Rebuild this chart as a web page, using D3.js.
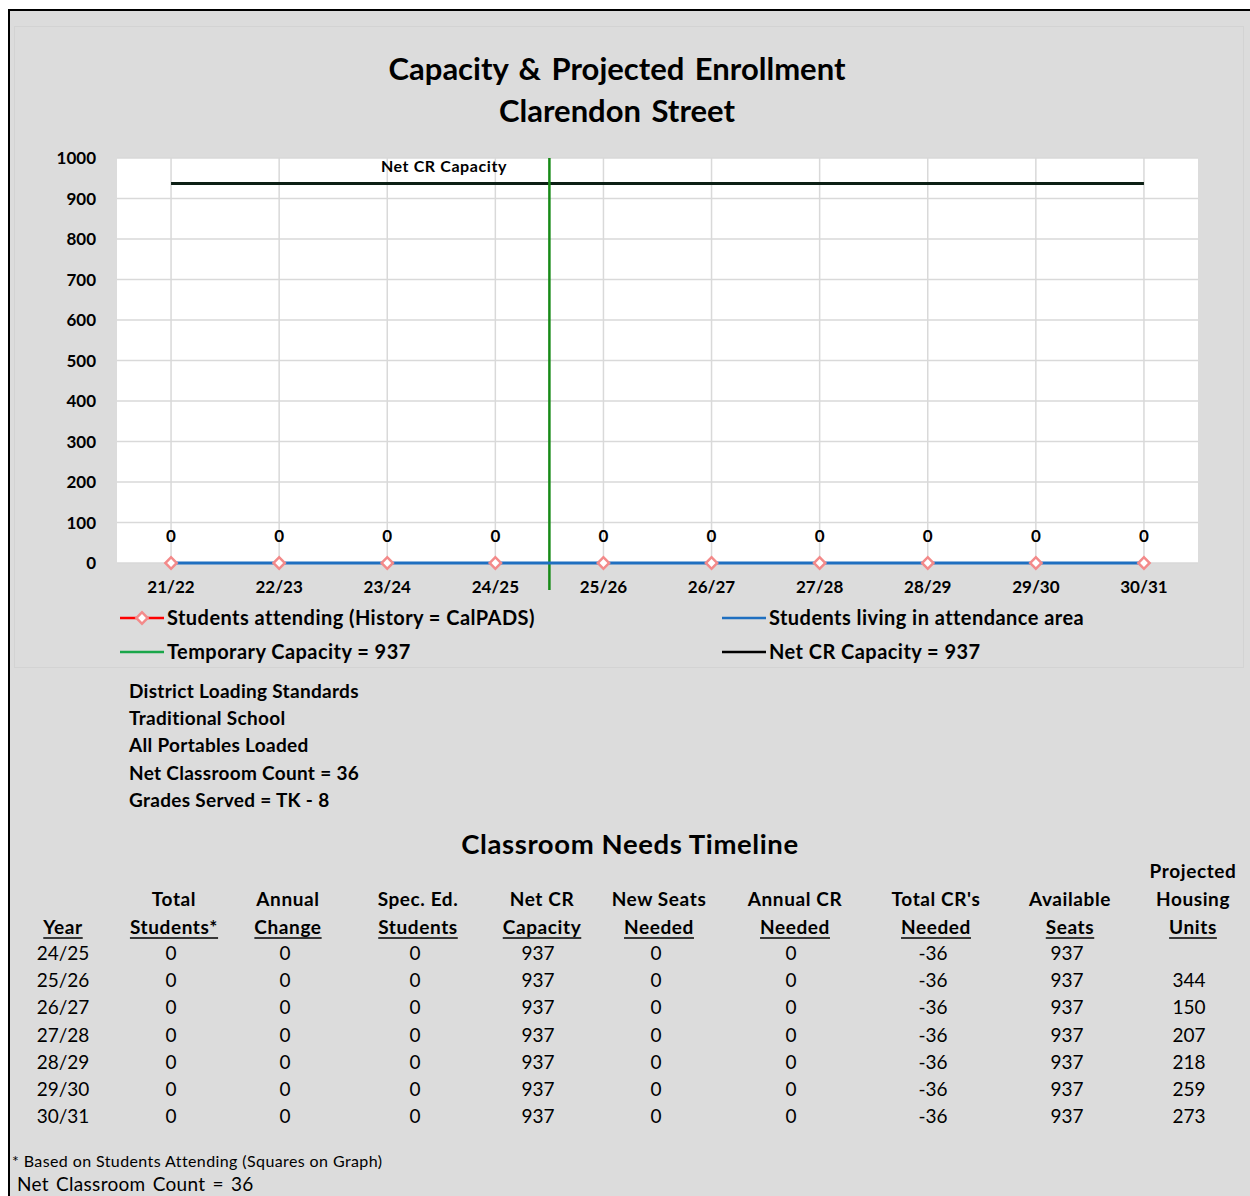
<!DOCTYPE html>
<html><head><meta charset="utf-8">
<script src="https://cdn.jsdelivr.net/npm/d3@7"></script>
<style>
html,body{margin:0;padding:0;background:#fff;}
svg{display:block;font-family:Lato,"Open Sans",sans-serif;}
</style></head>
<body><svg id="c" width="1250" height="1196"></svg>
<script>
// ---------- data ----------
const categories = ['21/22','22/23','23/24','24/25','25/26','26/27','27/28','28/29','29/30','30/31'];
const studentsAttending = [0,0,0,0,0,0,0,0,0,0];
const studentsLiving = [0,0,0,0,0,0,0,0,0,0];
const netCRCapacity = 937;
const temporaryCapacity = 937;
const dividerAfter = '24/25';
const yTicks = [0,100,200,300,400,500,600,700,800,900,1000];

const infoLines = ['District Loading Standards','Traditional School','All Portables Loaded','Net Classroom Count  = 36','Grades Served = TK - 8'];

const tableYears = ['24/25','25/26','26/27','27/28','28/29','29/30','30/31'];
const totalStudents = [0,0,0,0,0,0,0];
const annualChange = [0,0,0,0,0,0,0];
const specEdStudents = [0,0,0,0,0,0,0];
const netCRCap = [937,937,937,937,937,937,937];
const newSeatsNeeded = [0,0,0,0,0,0,0];
const annualCRNeeded = [0,0,0,0,0,0,0];
const totalCRNeeded = [-36,-36,-36,-36,-36,-36,-36];
const availableSeats = [937,937,937,937,937,937,937];
const housingUnits = ['',344,150,207,218,259,273];
const columnHeaders = [
  ['Year'],['Total','Students*'],['Annual','Change'],['Spec. Ed.','Students'],['Net CR','Capacity'],
  ['New Seats','Needed'],['Annual CR','Needed'],["Total CR's",'Needed'],['Available','Seats'],['Projected','Housing','Units']
];

// ---------- layout ----------
const svg = d3.select('#c');
svg.append('rect').attr('x',9).attr('y',10).attr('width',1241).attr('height',1186).attr('fill','#dcdcdc');
svg.append('line').attr('x1',9).attr('x2',9).attr('y1',9).attr('y2',1196).attr('stroke','#000').attr('stroke-width',2);
svg.append('line').attr('x1',8).attr('x2',1250).attr('y1',10).attr('y2',10).attr('stroke','#000').attr('stroke-width',2);
svg.append('rect').attr('x',14.5).attr('y',26.5).attr('width',1229).attr('height',641).attr('fill','none').attr('stroke','#d3d3d3').attr('stroke-width',1);

// title
svg.append('text').attr('x',617).attr('y',80).attr('text-anchor','middle').attr('font-size',31).attr('font-weight',700).attr('fill','#000')
  .attr('word-spacing',3).text('Capacity & Projected Enrollment');
svg.append('text').attr('x',617).attr('y',122).attr('text-anchor','middle').attr('font-size',31).attr('font-weight',700).attr('fill','#000')
  .attr('word-spacing',3).text('Clarendon Street');

const plot = {l:117, r:1198, t:158, b:563};
const x = d3.scaleBand().domain(categories).range([plot.l, plot.r]).padding(0);
const cx = d => x(d) + x.bandwidth()/2;
const y = d3.scaleLinear().domain([0,1000]).range([plot.b, plot.t]);

const g = svg.append('g');
g.append('rect').attr('x',plot.l).attr('y',plot.t).attr('width',plot.r-plot.l).attr('height',plot.b-plot.t).attr('fill','#fff');

// grid
g.append('g').selectAll('line').data(yTicks).join('line')
  .attr('x1',plot.l).attr('x2',plot.r).attr('y1',d=>y(d)).attr('y2',d=>y(d)).attr('stroke','#d9d9d9').attr('stroke-width',1.5);
g.append('g').selectAll('line').data(categories).join('line')
  .attr('x1',cx).attr('x2',cx).attr('y1',plot.t).attr('y2',plot.b).attr('stroke','#d9d9d9').attr('stroke-width',1.5);

// y axis
const yAxis = d3.axisLeft(y).tickValues(yTicks).tickSize(0).tickPadding(0).tickFormat(d3.format('d'));
const ya = g.append('g').attr('transform',`translate(96,0)`).call(yAxis);
ya.select('.domain').remove();
ya.selectAll('text').attr('font-size',17).attr('font-weight',700).attr('fill','#000').attr('font-family','Lato,sans-serif').attr('dy','0.35em');

// x axis
const xAxis = d3.axisBottom(x).tickSize(0).tickPadding(0);
const xa = g.append('g').attr('transform',`translate(0,${plot.b+18})`).call(xAxis);
xa.select('.domain').remove();
xa.selectAll('text').attr('font-size',17).attr('font-weight',700).attr('fill','#000').attr('font-family','Lato,sans-serif').attr('dy','0.7em');

// net CR capacity line
g.append('line').attr('x1',cx(categories[0])).attr('x2',cx(categories[categories.length-1]))
  .attr('y1',y(netCRCapacity)).attr('y2',y(netCRCapacity)).attr('stroke','#0c1f14').attr('stroke-width',3);
g.append('text').attr('x',444).attr('y',y(1000)+14).attr('text-anchor','middle').attr('font-size',16).attr('letter-spacing',0.6)
  .attr('font-weight',700).text('Net CR Capacity');

// divider (temporary capacity)
const di = categories.indexOf(dividerAfter);
const dx = (cx(categories[di]) + cx(categories[di+1]))/2;
g.append('line').attr('x1',dx).attr('x2',dx).attr('y1',plot.t).attr('y2',plot.b+27).attr('stroke','#178a17').attr('stroke-width',2.5);

// students living line
const line = d3.line().x((d,i)=>cx(categories[i])).y(d=>y(d));
g.append('path').datum(studentsLiving).attr('d',line).attr('fill','none').attr('stroke','#1f6fc0').attr('stroke-width',3);

// students attending markers
g.append('g').selectAll('path').data(studentsAttending).join('path')
  .attr('transform',(d,i)=>`translate(${cx(categories[i])},${y(d)}) rotate(45)`)
  .attr('d',d3.symbol().type(d3.symbolSquare).size(64))
  .attr('fill','#fff').attr('stroke','#f38a8a').attr('stroke-width',2.5);
// data labels
g.append('g').selectAll('text').data(studentsAttending).join('text')
  .attr('x',(d,i)=>cx(categories[i])).attr('y',d=>y(d)-21).attr('text-anchor','middle')
  .attr('font-size',17).attr('font-weight',700).text(d=>d);

// legend
const legend = [
  {label:'Students attending (History = CalPADS)', color:'#ff0000', marker:true, x:120, y:618},
  {label:'Students living in attendance area', color:'#1f6fc0', marker:false, x:722, y:618},
  {label:'Temporary Capacity = '+temporaryCapacity, color:'#1aa64a', marker:false, x:120, y:652},
  {label:'Net CR Capacity = '+netCRCapacity, color:'#000', marker:false, x:722, y:652}
];
const lg = svg.append('g').selectAll('g').data(legend).join('g').attr('transform',d=>`translate(${d.x},${d.y})`);
lg.append('line').attr('x1',0).attr('x2',44).attr('y1',0).attr('y2',0).attr('stroke',d=>d.color).attr('stroke-width',2.5);
lg.filter(d=>d.marker).append('path').attr('transform','translate(22,0) rotate(45)')
  .attr('d',d3.symbol().type(d3.symbolSquare).size(64)).attr('fill','#fff').attr('stroke','#f38a8a').attr('stroke-width',2.5);
lg.append('text').attr('x',47).attr('y',0).attr('dy','0.35em').attr('font-size',20).attr('letter-spacing',0.45)
  .attr('font-weight',700).text(d=>d.label);

// info lines
svg.append('g').selectAll('text').data(infoLines).join('text')
  .attr('x',129).attr('y',(d,i)=>691+i*27.3).attr('dy','0.35em').attr('font-size',19).attr('letter-spacing',0.3)
  .attr('font-weight',700).text(d=>d);

// table title
svg.append('text').attr('x',630).attr('y',854).attr('text-anchor','middle').attr('font-size',27.5).attr('letter-spacing',0.6)
  .attr('font-weight',700).text('Classroom Needs Timeline');

// table
const colX = [63,174,288,418,542,659,795,936,1070,1193];
const valX = [63,171,285,415,538,656,791,933,1067,1189];
const headerLastY = 927;
const hg = svg.append('g').selectAll('g').data(columnHeaders).join('g');
hg.each(function(lines,ci){
  const sel = d3.select(this);
  lines.forEach((t,li)=>{
    const yy = headerLastY - (lines.length-1-li)*28;
    const tx = sel.append('text').attr('x',colX[ci]).attr('y',yy).attr('dy','0.35em').attr('text-anchor','middle')
      .attr('font-size',19).attr('letter-spacing',0.6).attr('font-weight',700).text(t);
    if(li===lines.length-1){
      const w = tx.node().getComputedTextLength();
      sel.append('line').attr('x1',colX[ci]-w/2).attr('x2',colX[ci]+w/2).attr('y1',yy+11).attr('y2',yy+11).attr('stroke','#000').attr('stroke-width',1.5);
    }
  });
});
const columns = [tableYears,totalStudents,annualChange,specEdStudents,netCRCap,newSeatsNeeded,annualCRNeeded,totalCRNeeded,availableSeats,housingUnits];
const rows = tableYears.map((_,ri)=>columns.map(c=>c[ri]));
const rg = svg.append('g').selectAll('g').data(rows).join('g').attr('transform',(d,i)=>`translate(0,${953+i*27.3})`);
rg.selectAll('text').data(d=>d).join('text').attr('x',(d,i)=>valX[i]).attr('dy','0.35em').attr('text-anchor','middle')
  .attr('font-size',19).text(d=>d);

// footnotes
svg.append('text').attr('x',12).attr('y',1161).attr('dy','0.35em').attr('font-size',16).attr('letter-spacing',0.4)
  .text('* Based on Students Attending (Squares on Graph)');
svg.append('text').attr('x',17).attr('y',1184).attr('dy','0.35em').attr('font-size',19).attr('letter-spacing',0.3)
  .attr('word-spacing',2).text('Net Classroom Count  =  36');
</script></body></html>
